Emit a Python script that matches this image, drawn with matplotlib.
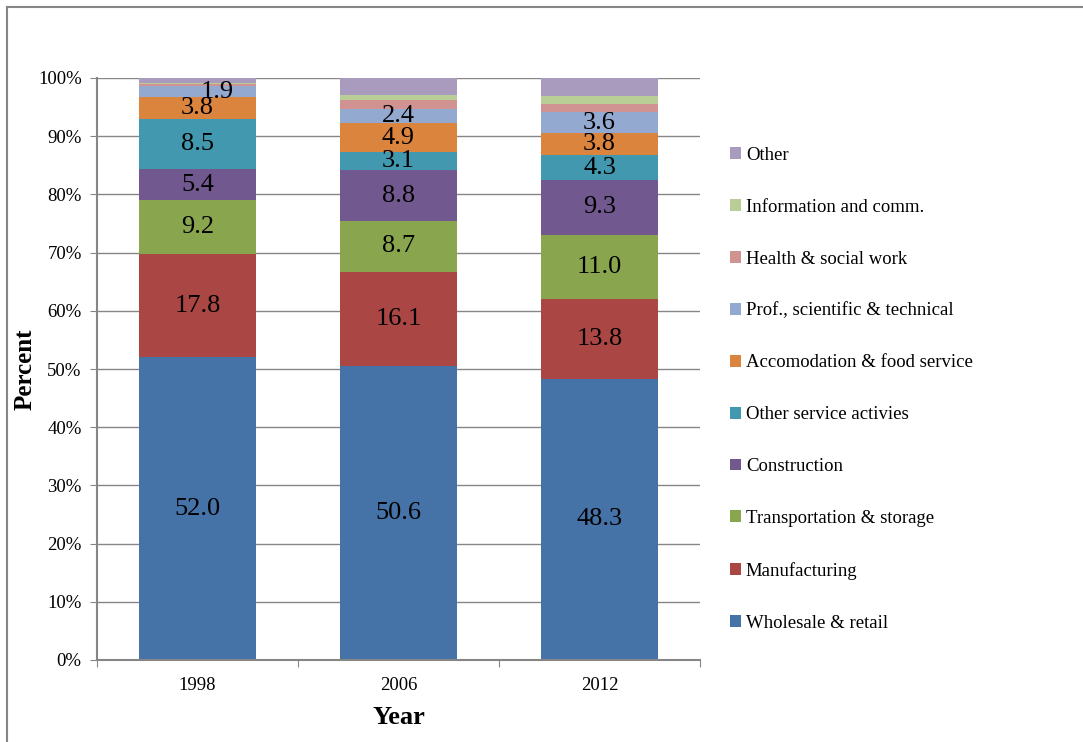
import numpy as np
import matplotlib
matplotlib.use("Agg")
import matplotlib.pyplot as plt
from matplotlib.patches import Patch
from matplotlib.lines import Line2D
from matplotlib.ticker import PercentFormatter

plt.rcParams['font.family'] = ['Liberation Serif', 'DejaVu Serif']

years = ['1998', '2006', '2012']
sectors = ['Wholesale & retail', 'Manufacturing', 'Transportation & storage',
           'Construction', 'Other service activies', 'Accomodation & food service',
           'Prof., scientific & technical', 'Health & social work',
           'Information and comm.', 'Other']
wholesale = [52.0, 50.6, 48.3]
manufacturing = [17.8, 16.1, 13.8]
transport = [9.2, 8.7, 11.0]
construction = [5.4, 8.8, 9.3]
other_service = [8.5, 3.1, 4.3]
accomodation = [3.8, 4.9, 3.8]
prof = [1.9, 2.4, 3.6]
health = [0.4, 1.6, 1.5]
info = [0.2, 0.8, 1.3]
other = [0.8, 3.0, 3.1]
series = [wholesale, manufacturing, transport, construction, other_service,
          accomodation, prof, health, info, other]
labelled = 7   # first seven series carry value labels
colors = ['#4572A7', '#AA4643', '#89A54E', '#71588F', '#4198AF',
          '#DB843D', '#93A9CF', '#D19392', '#B9CD96', '#A99BBD']

fig = plt.figure(figsize=(10.83, 7.42), dpi=100)
ax = fig.add_axes([97/1083, 1-660/742, 603/1083, 582/742])

x = np.arange(len(years))
bottom = np.zeros(len(years))
for i, vals in enumerate(series):
    vals = np.array(vals)
    ax.bar(x, vals, 0.587, bottom=bottom, color=colors[i], zorder=2)
    if i < labelled:
        for j in range(len(years)):
            dx = 0.1 if (i == 6 and j == 0) else 0
            ax.text(x[j] + dx, bottom[j] + vals[j] / 2, '%.1f' % vals[j],
                    ha='center', va='center', fontsize=19, zorder=3)
    bottom = bottom + vals

ax.set_xlim(-0.5, 2.5)
ax.set_ylim(0, 100)
ax.set_yticks(np.arange(0, 101, 10))
ax.yaxis.set_major_formatter(PercentFormatter(decimals=0))
ax.yaxis.grid(True, color='#868686', linewidth=1, zorder=0)
ax.set_axisbelow(True)

ax.set_xticks([-0.5, 0.5, 1.5, 2.5])
ax.set_xticklabels([])
ax.set_xticks(x, minor=True)
ax.set_xticklabels(years, minor=True, fontsize=13.5)
ax.tick_params(axis='x', which='minor', length=0, pad=12)
ax.tick_params(axis='x', which='major', length=5, color='#868686', direction='out')
ax.tick_params(axis='y', length=5, color='#868686', direction='out', labelsize=13.5, pad=6)

for s in ['top', 'right']:
    ax.spines[s].set_visible(False)
for s in ['left', 'bottom']:
    ax.spines[s].set_color('#868686')
    ax.spines[s].set_linewidth(1.5)

ax.set_ylabel('Percent', fontsize=18, fontweight='bold', va='center')
ax.yaxis.set_label_coords((25 - 97) / 603, 0.5)
ax.set_xlabel('Year', fontsize=19, fontweight='bold', va='center')
ax.xaxis.set_label_coords(0.5, (660 - 718) / 582)

handles = [Patch(facecolor=colors[i], edgecolor='none', label=sectors[i])
           for i in range(len(sectors))][::-1]
fig.legend(handles=handles, loc='upper left', bbox_to_anchor=(713/1083, 1-130/742),
           frameon=False, fontsize=13.5, handlelength=0.6, handleheight=0.6,
           handletextpad=0.25, labelspacing=1.86)

# outer frame (left and top edges only visible)
fig.add_artist(Line2D([7/1083, 7/1083], [0, 1-7/742], transform=fig.transFigure,
                      color='#868686', linewidth=1.5))
fig.add_artist(Line2D([7/1083, 1], [1-7/742, 1-7/742], transform=fig.transFigure,
                      color='#868686', linewidth=1.5))

fig.savefig('out.png', dpi=100)
